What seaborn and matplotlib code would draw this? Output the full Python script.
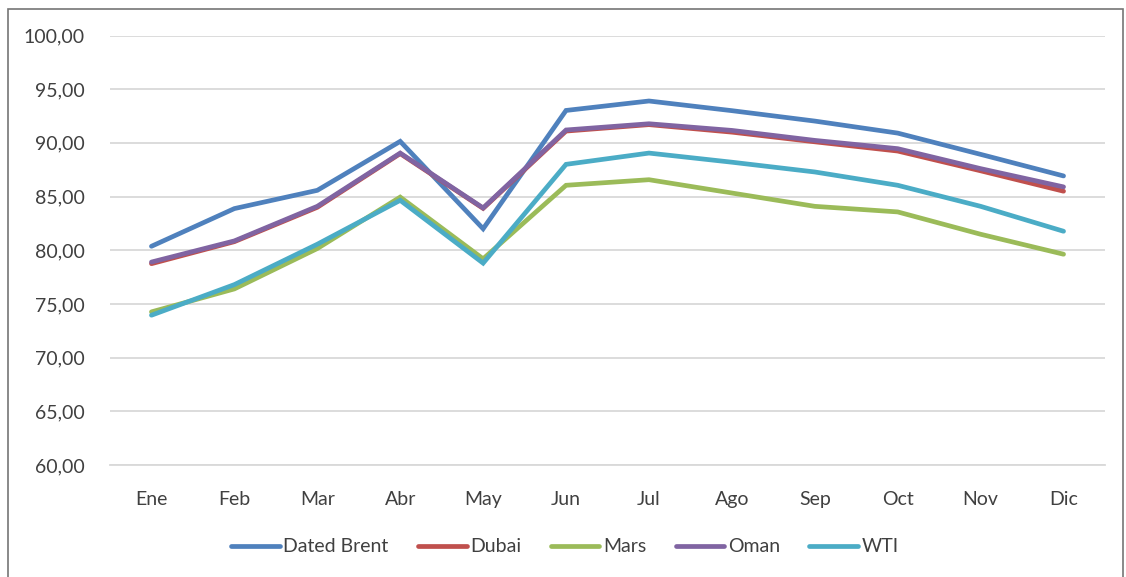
import matplotlib
matplotlib.use("Agg")
import matplotlib.pyplot as plt
import seaborn as sns
import pandas as pd
from matplotlib.patches import Rectangle
from matplotlib.ticker import FuncFormatter, MultipleLocator

months = ["Ene", "Feb", "Mar", "Abr", "May", "Jun", "Jul", "Ago", "Sep", "Oct", "Nov", "Dic"]
dated_brent = [80.37, 83.88, 85.58, 90.14, 82.00, 93.02, 93.90, 93.00, 92.03, 90.91, 88.93, 86.92]
dubai = [78.75, 80.80, 84.00, 89.00, 83.90, 91.10, 91.70, 91.00, 90.10, 89.24, 87.40, 85.50]
mars = [74.26, 76.40, 80.16, 84.95, 79.20, 86.05, 86.57, 85.33, 84.09, 83.57, 81.49, 79.63]
oman = [78.90, 80.87, 84.09, 89.05, 83.94, 91.20, 91.78, 91.16, 90.23, 89.46, 87.60, 85.90]
wti = [73.95, 76.80, 80.56, 84.65, 78.80, 88.00, 89.05, 88.20, 87.29, 86.05, 84.09, 81.77]

series_names = ["Dated Brent", "Dubai", "Mars", "Oman", "WTI"]
series_values = [dated_brent, dubai, mars, oman, wti]
colors = ["#4F81BD", "#C0504D", "#9BBB59", "#8064A2", "#4BACC6"]

rows = []
for name, vals in zip(series_names, series_values):
    for i, (m, v) in enumerate(zip(months, vals)):
        rows.append({"idx": i, "Mes": m, "Serie": name, "Valor": v})
df = pd.DataFrame(rows)

sns.set_theme(style="white")
plt.rcParams["font.family"] = ["Lato", "DejaVu Sans"]

fig = plt.figure(figsize=(11.26, 5.77), dpi=100)
ax = fig.add_axes([110 / 1126, 1 - 465 / 577, 995 / 1126, (465 - 35.5) / 577])

sns.lineplot(data=df, x="idx", y="Valor", hue="Serie", hue_order=series_names,
             palette=colors, linewidth=3.4, ax=ax, legend=False,
             solid_capstyle="round", solid_joinstyle="miter")

ax.set_xlim(-0.5, 11.5)
ax.set_ylim(60, 100)
ax.yaxis.set_major_locator(MultipleLocator(5))
ax.yaxis.set_major_formatter(FuncFormatter(lambda v, p: f"{v:.2f}".replace(".", ",")))
ax.set_xticks(range(len(months)))
ax.set_xticklabels(months)
ax.set_xlabel("")
ax.set_ylabel("")
ax.grid(axis="y", color="#D9D9D9", linewidth=1.3)
ax.grid(axis="x", visible=False)
ax.set_axisbelow(True)
for s in ["left", "right", "top"]:
    ax.spines[s].set_visible(False)
ax.spines["bottom"].set_color("#D9D9D9")
ax.spines["bottom"].set_linewidth(1.3)
ax.tick_params(axis="both", length=0, labelsize=14, colors="#404040")
ax.tick_params(axis="y", pad=18)
ax.tick_params(axis="x", pad=19)

handles = [plt.Line2D([0], [0], color=c, lw=3.4, solid_capstyle="round") for c in colors]
fig.legend(handles, series_names, loc="center", bbox_to_anchor=(565 / 1126, 1 - 547 / 577),
           ncol=5, frameon=False, fontsize=14, handlelength=2.5, handletextpad=0.2,
           columnspacing=1.5, labelcolor="#404040")

fig.patches.append(Rectangle((8 / 1126, -0.05), (1123 - 8) / 1126, 1 - 8.5 / 577 + 0.05,
                             transform=fig.transFigure, fill=False, edgecolor="#767676",
                             linewidth=1.2))

fig.savefig("out.png", dpi=100, facecolor="white")
